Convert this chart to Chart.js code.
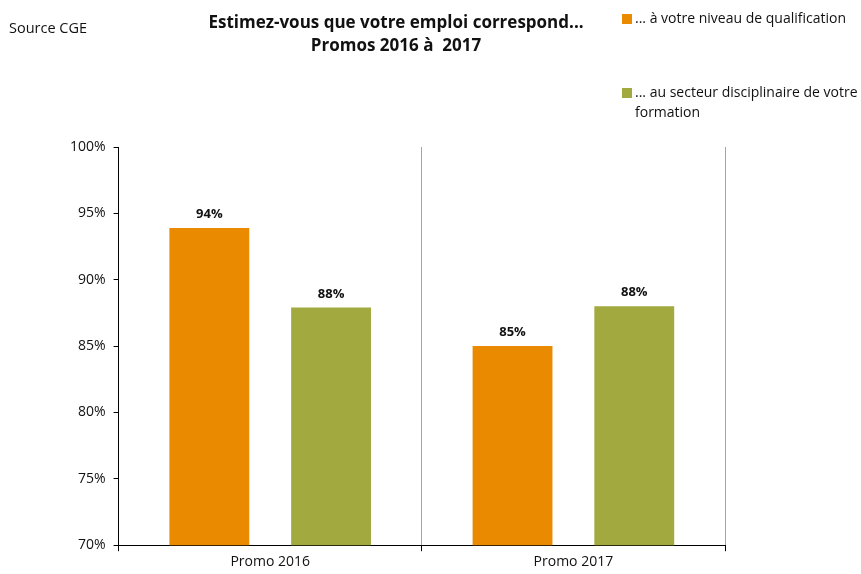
<!DOCTYPE html>
<html>
<head>
<meta charset="utf-8">
<script src="https://cdn.jsdelivr.net/npm/chart.js@4"></script>
<style>
  body { margin: 0; background: #fff; }
  #wrap { width: 861px; height: 574px; position: relative; }
</style>
</head>
<body>
<div id="wrap"><canvas id="emploiChart"></canvas></div>
<script>
// data
const categories = ["Promo 2016", "Promo 2017"];
const qualification = [93.9, 85.0];
const secteur = [87.9, 88.0];
const seriesNames = [
  "... à votre niveau de qualification",
  "... au secteur disciplinaire de votre formation",
];
const titleLines = ["Estimez-vous que votre emploi correspond...", "Promos 2016 à  2017"];
const sourceText = "Source CGE";
const yTicks = [70, 75, 80, 85, 90, 95, 100];

const colors = ["#E98A00", "#A2A93F"];
const fontFamily = "'Open Sans', 'Noto Sans', sans-serif";

const ctx = document.getElementById("emploiChart").getContext("2d");

// texts around the chart + value labels
const decorPlugin = {
  id: "decor",
  afterDatasetsDraw(chart) {
    const c = chart.ctx;
    c.save();
    // value labels
    c.font = "bold 13px " + fontFamily;
    c.fillStyle = "#111";
    c.textAlign = "center";
    c.textBaseline = "bottom";
    chart.data.datasets.forEach((ds, i) => {
      chart.getDatasetMeta(i).data.forEach((bar, j) => {
        c.fillText(Math.round(ds.data[j]) + "%", bar.x, bar.y - 7);
      });
    });
    // source
    c.font = "14.5px " + fontFamily;
    c.textAlign = "left";
    c.textBaseline = "middle";
    c.fillStyle = "#111";
    c.fillText(sourceText, 9, 29);
    // title
    c.font = "bold 17px " + fontFamily;
    c.textAlign = "center";
    c.fillText(titleLines[0], 396, 23);
    c.fillText(titleLines[1], 396, 46);
    // legend
    c.font = "14px " + fontFamily;
    c.textAlign = "left";
    c.fillStyle = colors[0];
    c.fillRect(622, 14, 10, 10);
    c.fillStyle = colors[1];
    c.fillRect(622, 88, 10, 10);
    c.fillStyle = "#111";
    c.fillText(seriesNames[0], 635, 19);
    c.fillText("... au secteur disciplinaire de votre", 635, 93);
    c.fillText("formation", 635, 113);
    c.restore();
  },
};

const emploi_chart = new Chart(ctx, {
  type: "bar",
  data: {
    labels: categories,
    datasets: [
      {
        label: seriesNames[0],
        data: qualification,
        backgroundColor: colors[0],
        categoryPercentage: 0.803,
        barPercentage: 0.656,
      },
      {
        label: seriesNames[1],
        data: secteur,
        backgroundColor: colors[1],
        categoryPercentage: 0.803,
        barPercentage: 0.656,
      },
    ],
  },
  options: {
    responsive: true,
    maintainAspectRatio: false,
    animation: false,
    layout: {
      padding: { top: 147, right: 136, bottom: 2, left: 62 },
    },
    plugins: {
      legend: { display: false },
      title: { display: false },
      tooltip: { enabled: false },
    },
    scales: {
      x: {
        grid: {
          offset: true,
          color: "#a6a6a6",
          tickColor: "#000",
          tickLength: 6,
        },
        border: { color: "#000" },
        ticks: {
          color: "#111",
          font: { family: fontFamily, size: 14 },
          padding: 2,
        },
      },
      y: {
        min: 70,
        max: 100,
        afterBuildTicks(axis) {
          axis.ticks = yTicks.map((v) => ({ value: v }));
        },
        grid: {
          drawOnChartArea: false,
          tickColor: "#000",
          tickLength: 5,
        },
        border: { color: "#000" },
        ticks: {
          color: "#111",
          font: { family: fontFamily, size: 14 },
          padding: 8,
          callback: (v) => v + "%",
        },
      },
    },
  },
  plugins: [decorPlugin],
});
</script>
</body>
</html>
